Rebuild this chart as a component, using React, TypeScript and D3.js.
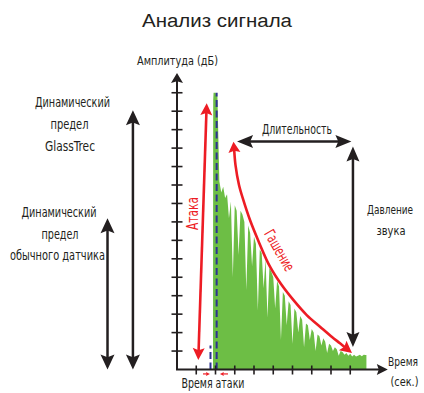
import React from "react";
import * as d3 from "d3";

// ---------- data ----------
const title = "Анализ сигнала";
const yLabel = "Амплитуда (дБ)";
const xLabelLines = ["Время", "(сек.)"];
const xTicks = [1, 2, 3, 4, 5, 6, 7, 8, 9];
const yTicks = [1, 2, 3, 4, 5, 6, 7, 8, 9, 10, 11, 12, 13, 14, 15];

// waveform (time in seconds units, amplitude in dB units)
const waveTime = [
  1.87, 1.88, 1.9, 2.0, 2.1, 2.2, 2.3, 2.4, 2.5, 2.6, 2.7, 2.8, 2.9, 3.0, 3.1, 3.2, 3.3, 3.4, 3.5,
  3.6, 3.7, 3.8, 3.9, 4.0, 4.1, 4.2, 4.3, 4.4, 4.5, 4.6, 4.7, 4.8, 4.9, 5.0, 5.1, 5.2, 5.3, 5.4,
  5.5, 5.6, 5.7, 5.8, 5.9, 6.0, 6.1, 6.2, 6.3, 6.4, 6.5, 6.6, 6.7, 6.8, 6.9, 7.0, 7.1, 7.2, 7.3,
  7.4, 7.5, 7.6, 7.7, 7.8, 7.9, 8.0, 8.1, 8.2, 8.3, 8.4, 8.5, 8.6, 8.7, 8.8, 8.9, 9.0, 9.1, 9.2,
  9.3, 9.4, 9.5, 9.6, 9.7, 9.8, 9.84, 9.84,
];
const waveAmp = [
  0, 14.6, 15.0, 15.0, 14.8, 10.2, 9.6, 9.9, 9.3, 9.5, 8.2, 9.1, 5.0, 8.9, 8.6, 6.2, 8.6, 8.4, 8.0,
  4.3, 7.8, 7.4, 5.6, 7.2, 6.8, 3.2, 6.5, 6.3, 4.4, 6.0, 2.8, 5.5, 5.3, 5.0, 3.3, 4.8, 4.5, 1.6,
  4.2, 4.0, 2.4, 3.7, 3.5, 1.4, 3.3, 3.1, 2.0, 2.9, 2.7, 1.2, 2.5, 2.4, 1.6, 2.2, 2.0, 1.0, 1.9,
  1.8, 1.3, 1.7, 1.5, 0.9, 1.4, 1.3, 1.0, 1.2, 1.1, 0.75, 1.0, 0.95, 0.8, 0.9, 0.75, 0.85, 0.7, 0.8,
  0.7, 0.75, 0.8, 0.72, 0.8, 0.78, 0.78, 0,
];

// annotations (data units)
const attackBounds = [1.74, 2.06]; // blue dashed lines
const attackBoundTops = [1.3, 15.0];
const glassTrecRange = [0, 14.05];
const sensorRange = [0, 8.2];
const durationSpan = [3.12, 9.06];
const durationLevel = 12.36;
const pressureAt = 9.14;
const pressureSpan = [1.22, 12.08];
const attackArrow: [number, number][] = [
  [1.106, 0.515],
  [1.543, 14.43],
];
const decayCurve: [number, number][] = [
  [2.935, 12.35], [3.039, 11.08], [3.221, 10.0], [3.444, 9.19], [3.792, 8.1], [4.208, 7.02],
  [4.831, 5.57], [5.403, 4.63], [6.042, 3.77], [6.738, 2.95], [7.429, 2.32], [8.052, 1.76],
  [8.468, 1.42], [9.091, 0.89],
];
const attackTimeArrows: [number, number][] = [
  [1.35, 1.71],
  [2.65, 2.23],
];

// ---------- styles ----------
const BLACK = "#231f20";
const RED = "#ed1c24";
const GREEN = "#6dbe45";
const BLUE = "#2e3192";
const COND = "'Liberation Sans Narrow','DejaVu Sans Condensed','Roboto Condensed','Liberation Sans',sans-serif";

type P = [number, number];

function arrowHead(tip: P, from: P, L: number, W: number) {
  const dx = tip[0] - from[0];
  const dy = tip[1] - from[1];
  const len = Math.hypot(dx, dy) || 1;
  const ux = dx / len;
  const uy = dy / len;
  const nx = -uy;
  const ny = ux;
  const bx = tip[0] - ux * L;
  const by = tip[1] - uy * L;
  const kx = tip[0] - ux * L * 0.82;
  const ky = tip[1] - uy * L * 0.82;
  const d = `M${tip[0]},${tip[1]}L${bx + (nx * W) / 2},${by + (ny * W) / 2}L${kx},${ky}L${bx - (nx * W) / 2},${by - (ny * W) / 2}Z`;
  const base: P = [tip[0] - ux * L * 0.7, tip[1] - uy * L * 0.7];
  return { d, base };
}

function DoubleArrow({ a, b, color, L, W, sw }: { a: P; b: P; color: string; L: number; W: number; sw: number }) {
  const h1 = arrowHead(a, b, L, W);
  const h2 = arrowHead(b, a, L, W);
  return (
    <g>
      <line x1={h1.base[0]} y1={h1.base[1]} x2={h2.base[0]} y2={h2.base[1]} stroke={color} strokeWidth={sw} />
      <path d={h1.d} fill={color} />
      <path d={h2.d} fill={color} />
    </g>
  );
}

function Label({ x, y, text, len, size = 14, fill = BLACK, family = COND }: any) {
  return (
    <text
      x={x}
      y={y}
      textAnchor="middle"
      fontFamily={family}
      fontSize={size}
      fill={fill}
      textLength={len}
      lengthAdjust="spacingAndGlyphs"
    >
      {text}
    </text>
  );
}

export default function App() {
  const W = 424;
  const H = 393;
  const x = d3.scaleLinear().domain([0, 11]).range([177, 388.75]);
  const y = d3.scaleLinear().domain([0, 16]).range([369.5, 74.3]);

  const wave = waveTime.map((t, i) => [t, waveAmp[i]] as P);
  const area = d3
    .area<P>()
    .x((d) => x(d[0]))
    .y0(y(0))
    .y1((d) => y(d[1]))(wave) as string;

  // decay curve with heads
  const dp: P[] = decayCurve.map((d) => [x(d[0]), y(d[1])]);
  const n = dp.length;
  const hs = arrowHead(dp[0], dp[1], 11, 12);
  const he = arrowHead(dp[n - 1], dp[n - 2], 12, 12);
  const curvePts: P[] = [hs.base, ...dp.slice(1, n - 1), he.base];
  const decayPath = d3.line<P>().curve(d3.curveCatmullRom.alpha(0.5))(curvePts) as string;

  const axisTop: P = [x(0), y(16.07)];
  const axisRight: P = [x(10.95), y(0)];
  const yHead = arrowHead(axisTop, [x(0), y(0)], 10, 12);
  const xHead = arrowHead(axisRight, [x(0), y(0)], 11, 11);

  return (
    <svg width={W} height={H} style={{ position: "absolute", left: 0, top: 0, display: "block", background: "#fff" }}>
      <rect x={0} y={0} width={W} height={H} fill="#fff" />
      {/* title */}
      <Label x={217} y={27} text={title} len={150} size={18} family="'Liberation Sans', Arial, sans-serif" />

      {/* waveform */}
      <path d={area} fill={GREEN} />

      {/* blue dashed attack bounds */}
      {attackBounds.map((b, i) => (
        <line
          key={i}
          x1={x(b)}
          x2={x(b)}
          y1={y(0)}
          y2={y(attackBoundTops[i])}
          stroke={BLUE}
          strokeWidth={2}
          strokeDasharray="7,3.5"
        />
      ))}

      {/* axes */}
      <line x1={x(0)} y1={y(0)} x2={yHead.base[0]} y2={yHead.base[1]} stroke={BLACK} strokeWidth={2} />
      <path d={yHead.d} fill={BLACK} />
      <line x1={x(0) - 1} y1={y(0)} x2={xHead.base[0]} y2={xHead.base[1]} stroke={BLACK} strokeWidth={2} />
      <path d={xHead.d} fill={BLACK} />
      {yTicks.map((t) => (
        <line key={t} x1={x(0) - 5.5} x2={x(0) + 5.5} y1={y(t)} y2={y(t)} stroke={BLACK} strokeWidth={1.6} />
      ))}
      {xTicks.map((t) => (
        <line key={t} x1={x(t)} x2={x(t)} y1={y(0) - 4} y2={y(0) + 5} stroke={BLACK} strokeWidth={1.6} />
      ))}

      {/* axis labels */}
      <Label x={177.5} y={64.5} text={yLabel} len={81} size={13} />
      <Label x={403} y={366} text={xLabelLines[0]} len={30} size={12} />
      <Label x={404.5} y={386} text={xLabelLines[1]} len={28} size={12.5} />

      {/* dynamic range arrows */}
      <DoubleArrow a={[x(-2.29), y(glassTrecRange[1])]} b={[x(-2.29), y(glassTrecRange[0])]} color={BLACK} L={15} W={14} sw={2.5} />
      <DoubleArrow a={[x(-3.61), y(sensorRange[1])]} b={[x(-3.61), y(sensorRange[0])]} color={BLACK} L={15} W={14} sw={2.5} />

      <Label x={72.5} y={106.5} text="Динамический" len={75} />
      <Label x={69.5} y={128.5} text="предел" len={38} />
      <Label x={70} y={151} text="GlassTrec" len={50} />
      <Label x={59} y={217} text="Динамический" len={75} />
      <Label x={60} y={238.5} text="предел" len={37} />
      <Label x={57.5} y={259.5} text="обычного датчика" len={95} />

      {/* duration & pressure */}
      <DoubleArrow a={[x(durationSpan[0]), y(durationLevel)]} b={[x(durationSpan[1]), y(durationLevel)]} color={BLACK} L={16} W={13} sw={2.5} />
      <DoubleArrow a={[x(pressureAt), y(pressureSpan[1])]} b={[x(pressureAt), y(pressureSpan[0])]} color={BLACK} L={15} W={13} sw={2.5} />
      <Label x={297} y={134} text="Длительность" len={70} />
      <Label x={390} y={214} text="Давление" len={46} size={12.5} />
      <Label x={391} y={235} text="звука" len={29} size={13} />

      {/* attack arrow */}
      <DoubleArrow
        a={[x(attackArrow[0][0]), y(attackArrow[0][1])]}
        b={[x(attackArrow[1][0]), y(attackArrow[1][1])]}
        color={RED}
        L={12}
        W={12}
        sw={2.6}
      />
      <g transform="translate(197.5,213.5) rotate(-90)">
        <text x={0} y={0} textAnchor="middle" fontFamily={COND} fontSize={15} fill={RED} textLength={33} lengthAdjust="spacingAndGlyphs">
          Атака
        </text>
      </g>

      {/* decay curve */}
      <path d={decayPath} fill="none" stroke={RED} strokeWidth={2.6} />
      <path d={hs.d} fill={RED} />
      <path d={he.d} fill={RED} />
      <g transform="translate(275,253) rotate(60)">
        <text x={0} y={0} textAnchor="middle" fontFamily={COND} fontSize={15} fill={RED} textLength={45} lengthAdjust="spacingAndGlyphs">
          Гашение
        </text>
      </g>

      {/* attack time small arrows */}
      {attackTimeArrows.map(([s, e], i) => {
        const yy = y(-0.24);
        const h = arrowHead([x(e), yy], [x(s), yy], 4, 4);
        return (
          <g key={i}>
            <line x1={x(s)} y1={yy} x2={h.base[0]} y2={yy} stroke={RED} strokeWidth={1.2} />
            <path d={h.d} fill={RED} />
          </g>
        );
      })}
      <Label x={213} y={388} text="Время атаки" len={63} />
    </svg>
  );
}
